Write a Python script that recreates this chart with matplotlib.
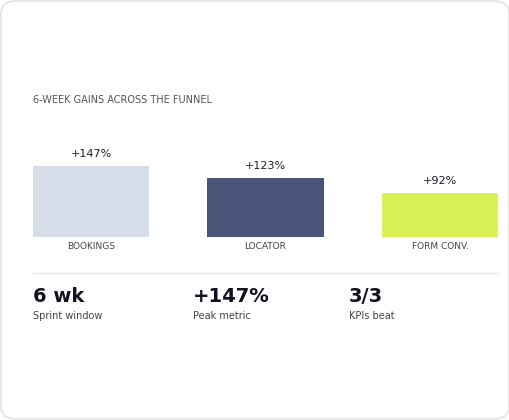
import matplotlib
matplotlib.use("Agg")
import matplotlib.pyplot as plt
from matplotlib.patches import FancyBboxPatch

categories = ["BOOKINGS", "LOCATOR", "FORM CONV."]
values = [147, 123, 92]
value_labels = ["+147%", "+123%", "+92%"]
colors = ["#d6dde8", "#4a5478", "#d9f154"]
stat_values = ["6 wk", "+147%", "3/3"]
stat_labels = ["Sprint window", "Peak metric", "KPIs beat"]
title = "6-WEEK GAINS ACROSS THE FUNNEL"

plt.rcParams['font.family'] = ['Liberation Sans Narrow', 'DejaVu Sans']
W, H = 510, 420
fig = plt.figure(figsize=(W/100, H/100), dpi=100)
fig.patch.set_facecolor("white")
card = FancyBboxPatch((1/W, 1/H), 508/W, 418/H, boxstyle="round,pad=0,rounding_size=0.03",
                      transform=fig.transFigure, facecolor="white", edgecolor="#dddddd", lw=1,
                      zorder=-10)
fig.patches.append(card)

def fx(px): return px / W
def fy(py): return 1 - py / H

fig.text(fx(33), fy(100), title, fontsize=7, color="#555555", va="center", ha="left")

w = 0.665
ax = fig.add_axes([fx(33), fy(237), fx(498) - fx(33), (237 - 137) / H])
ax.set_zorder(5)
x = range(len(values))
ax.bar(x, values, width=w, color=colors)
ax.set_xlim(-w/2, 2 + w/2)
ax.set_ylim(0, 207)
ax.axis("off")
for i, (v, lab) in enumerate(zip(values, value_labels)):
    ax.text(i, v + 14, lab, ha="center", va="bottom", fontsize=8, color="#1a1a2e")
    ax.text(i, -11, categories[i], ha="center", va="top", fontsize=6.5, color="#444444")

fig.add_artist(plt.Line2D([fx(33), fx(498)], [fy(273), fy(273)], color="#e6e6e6", lw=1))

for xp, sv, sl in zip([33, 193, 349], stat_values, stat_labels):
    fig.text(fx(xp), fy(296), sv, fontsize=14, fontweight="bold", color="#111122", va="center")
    fig.text(fx(xp), fy(316), sl, fontsize=7, color="#444444", va="center")

fig.savefig("out.png", dpi=100, facecolor="white")
